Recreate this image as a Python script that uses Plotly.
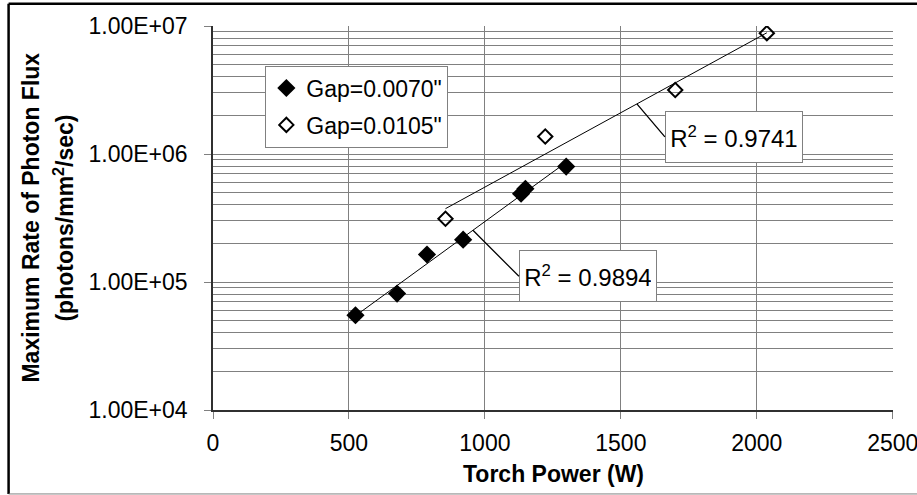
import numpy as np
import plotly.graph_objects as go

# Torch power (W) and peak photon flux (photons/mm^2/sec) for the two gaps
power_gap_0070 = [524, 677, 787, 920, 1133, 1149, 1299]
flux_gap_0070 = [5.50e4, 8.12e4, 1.64e5, 2.14e5, 4.89e5, 5.35e5, 7.98e5]

power_gap_0105 = [855, 1222, 1700, 2037]
flux_gap_0105 = [3.12e5, 1.37e6, 3.16e6, 8.79e6]

series_names = ['Gap=0.0070"', 'Gap=0.0105"']
r2_labels = ["R<sup>2</sup> = 0.9894", "R<sup>2</sup> = 0.9741"]
leader_power = [956, 1559]          # where each R² leader touches its trendline

y_tick_vals = [1e4, 1e5, 1e6, 1e7]
y_tick_text = ["1.00E+04", "1.00E+05", "1.00E+06", "1.00E+07"]
x_tick_vals = [0, 500, 1000, 1500, 2000, 2500]

x_title = "Torch Power (W)"
y_title_lines = ["Maximum Rate of Photon Flux", "(photons/mm<sup>2</sup>/sec)"]

FONT = "Liberation Sans, Arial, sans-serif"
GRID = "#808080"


def exp_fit(x, y):
    """Exponential trendline: straight line in log10(y) against x."""
    slope, icpt = np.polyfit(np.asarray(x, float), np.log10(y), 1)
    return lambda xx: 10 ** (icpt + slope * np.asarray(xx, float))


fit_a = exp_fit(power_gap_0070, flux_gap_0070)
fit_b = exp_fit(power_gap_0105, flux_gap_0105)

fig = go.Figure()

# trendlines
for xs, fit in ((power_gap_0070, fit_a), (power_gap_0105, fit_b)):
    xx = np.linspace(min(xs), max(xs), 60)
    fig.add_trace(go.Scatter(x=xx, y=fit(xx), mode="lines",
                             line=dict(color="black", width=1),
                             showlegend=False, hoverinfo="skip"))

fig.add_trace(go.Scatter(
    x=power_gap_0070, y=flux_gap_0070, mode="markers", name=series_names[0],
    legendgroup="a",
    marker=dict(symbol="diamond", size=14, color="black",
                line=dict(color="black", width=0))))
fig.add_trace(go.Scatter(
    x=power_gap_0105, y=flux_gap_0105, mode="markers", name=series_names[1],
    legendgroup="b",
    marker=dict(symbol="diamond-open", size=11, color="black",
                line=dict(color="black", width=2))))

# R² labels with leader lines to the trendlines
for lbl, px, fit, off in ((r2_labels[0], leader_power[0], fit_a, (46, 46)),
                          (r2_labels[1], leader_power[1], fit_b, (28, 33))):
    fig.add_annotation(
        x=px, y=float(np.log10(fit(px))), xref="x", yref="y",
        text=lbl, showarrow=True, arrowhead=0, arrowwidth=1.3,
        arrowcolor="black", ax=off[0], ay=off[1],
        xanchor="left", yanchor="middle", width=126, height=40,
        font=dict(family=FONT, size=24, color="black"),
        bgcolor="white", bordercolor=GRID, borderwidth=1, borderpad=5)

# axis titles
fig.add_annotation(x=0.5, y=-0.166, xref="paper", yref="paper",
                   text=f"<b>{x_title}</b>", showarrow=False,
                   xanchor="center", yanchor="middle",
                   font=dict(family=FONT, size=23, color="black"))
for line, px in zip(y_title_lines, (-0.2683, -0.2198)):
    fig.add_annotation(x=px, y=0.5, xref="paper", yref="paper",
                       text=f"<b>{line}</b>", showarrow=False, textangle=-90,
                       xanchor="center", yanchor="middle",
                       font=dict(family=FONT, size=23, color="black"))

# chart-area frame
fig.add_shape(type="line", xref="paper", yref="paper",
              x0=-0.3006, x1=-0.3006, y0=-0.2186, y1=1.0578,
              line=dict(color="black", width=2.5))
fig.add_shape(type="line", xref="paper", yref="paper",
              x0=-0.3006, x1=1.1, y0=1.0578, y1=1.0578,
              line=dict(color="black", width=2.5))
fig.add_shape(type="line", xref="paper", yref="paper",
              x0=-0.3006, x1=1.1, y0=-0.2186, y1=-0.2186,
              line=dict(color=GRID, width=1))

fig.update_layout(
    width=917, height=495, autosize=False,
    margin=dict(l=212.5, r=24.3, t=25.7, b=85, autoexpand=False),
    paper_bgcolor="white", plot_bgcolor="white",
    font=dict(family=FONT, size=23, color="black"),
    legend=dict(x=0.077, y=0.897, xanchor="left", yanchor="top",
                bgcolor="white", bordercolor=GRID, borderwidth=1,
                font=dict(family=FONT, size=23, color="black"),
                traceorder="grouped", tracegroupgap=4, itemwidth=30),
    xaxis=dict(
        range=[0, 2501], tickvals=x_tick_vals, showgrid=True,
        gridcolor=GRID, gridwidth=1, zeroline=False, automargin=False,
        showline=True, linecolor="#303030", linewidth=1.5,
        ticks="outside", ticklen=7, tickcolor=GRID, ticklabelstandoff=5,
        ticklabeloverflow="allow",
        tickfont=dict(family=FONT, size=23)),
    yaxis=dict(
        type="log", range=[4, 7], tickvals=y_tick_vals, ticktext=y_tick_text,
        showgrid=True, gridcolor=GRID, gridwidth=1, zeroline=False,
        automargin=False,
        showline=True, linecolor="#303030", linewidth=1.5,
        ticks="outside", ticklen=7, tickcolor=GRID, ticklabelstandoff=12,
        tickfont=dict(family=FONT, size=23),
        minor=dict(dtick="D1", showgrid=True, gridcolor=GRID, gridwidth=1,
                   ticks="")),
)

fig.write_html("out.html")
